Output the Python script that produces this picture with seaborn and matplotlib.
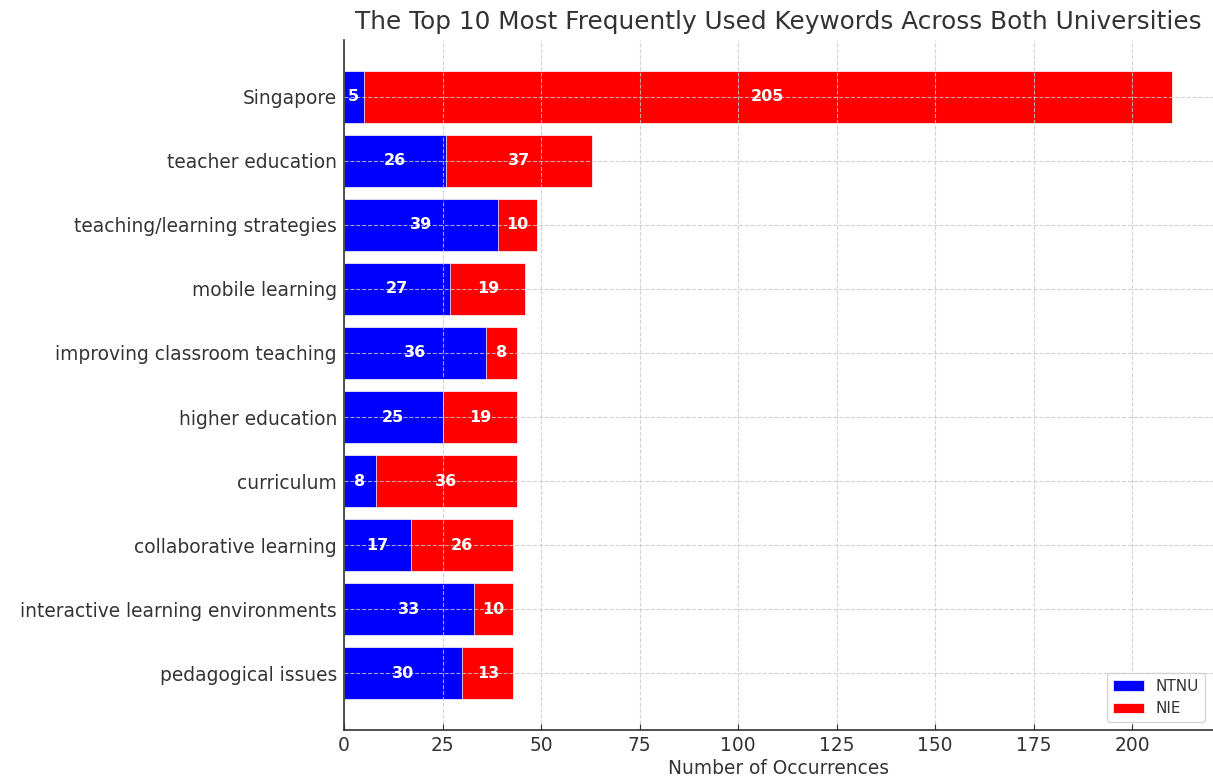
import matplotlib
matplotlib.use("Agg")
import matplotlib.pyplot as plt
import seaborn as sns
import pandas as pd

keywords = [
    "Singapore",
    "teacher education",
    "teaching/learning strategies",
    "mobile learning",
    "improving classroom teaching",
    "higher education",
    "curriculum",
    "collaborative learning",
    "interactive learning environments",
    "pedagogical issues",
]
ntnu_counts = [5, 26, 39, 27, 36, 25, 8, 17, 33, 30]
nie_counts = [205, 37, 10, 19, 8, 19, 36, 26, 10, 13]

df = pd.DataFrame({"keyword": keywords, "NTNU": ntnu_counts, "NIE": nie_counts})
df["total"] = df["NTNU"] + df["NIE"]

sns.set_style("white")
plt.rcParams["font.family"] = ["DejaVu Sans"]
text_color = "#333333"

fig = plt.figure(figsize=(12.13, 7.80), dpi=100)
ax = fig.add_axes([344 / 1213, 50 / 780, 1 - 344 / 1213, 690 / 780])

# Stacked bars: full total in red, NTNU segment in blue drawn over it
sns.barplot(data=df, x="total", y="keyword", color="#ff0000", saturation=1,
            width=0.8, label="NIE", ax=ax, orient="h", linewidth=0.5,
            edgecolor="white")
sns.barplot(data=df, x="NTNU", y="keyword", color="#0000ff", saturation=1,
            width=0.8, label="NTNU", ax=ax, orient="h", linewidth=0.5,
            edgecolor="white")

# Segment value labels
for i, row in df.iterrows():
    ax.text(row["NTNU"] / 2, i, str(row["NTNU"]), ha="center", va="center",
            color="white", fontweight="bold", fontsize=11.5)
    ax.text(row["NTNU"] + row["NIE"] / 2, i, str(row["NIE"]), ha="center",
            va="center", color="white", fontweight="bold", fontsize=11.5)

ax.set_xlim(0, 220.5)
ax.set_ylim(len(keywords) - 1 + 0.89, -0.89)
ax.set_xticks([0, 25, 50, 75, 100, 125, 150, 175, 200])
ax.set_title("The Top 10 Most Frequently Used Keywords Across Both Universities",
             fontsize=17.8, color=text_color, pad=8)
ax.set_xlabel("Number of Occurrences", fontsize=13.4, color=text_color,
              labelpad=3)
ax.set_ylabel("")
ax.tick_params(axis="x", labelsize=13.4, colors=text_color, direction="in",
               length=4, bottom=True, pad=4)
ax.tick_params(axis="y", labelsize=13.4, colors=text_color, length=0, pad=5)

ax.set_axisbelow(False)
ax.grid(True, linestyle="--", color="#c8c8c8", linewidth=0.8, alpha=0.8)

for side in ["top", "right"]:
    ax.spines[side].set_visible(False)
for side in ["left", "bottom"]:
    ax.spines[side].set_color("#333333")
    ax.spines[side].set_linewidth(1.2)
    ax.spines[side].set_zorder(3)

handles, labels = ax.get_legend_handles_labels()
order = [labels.index("NTNU"), labels.index("NIE")]
ax.legend([handles[k] for k in order], [labels[k] for k in order],
          loc="lower right", fontsize=11, frameon=True,
          labelcolor=text_color, edgecolor="#cccccc",
          bbox_to_anchor=(1.0, 0.0), borderaxespad=0.5)

fig.savefig("out.png", dpi=100)
